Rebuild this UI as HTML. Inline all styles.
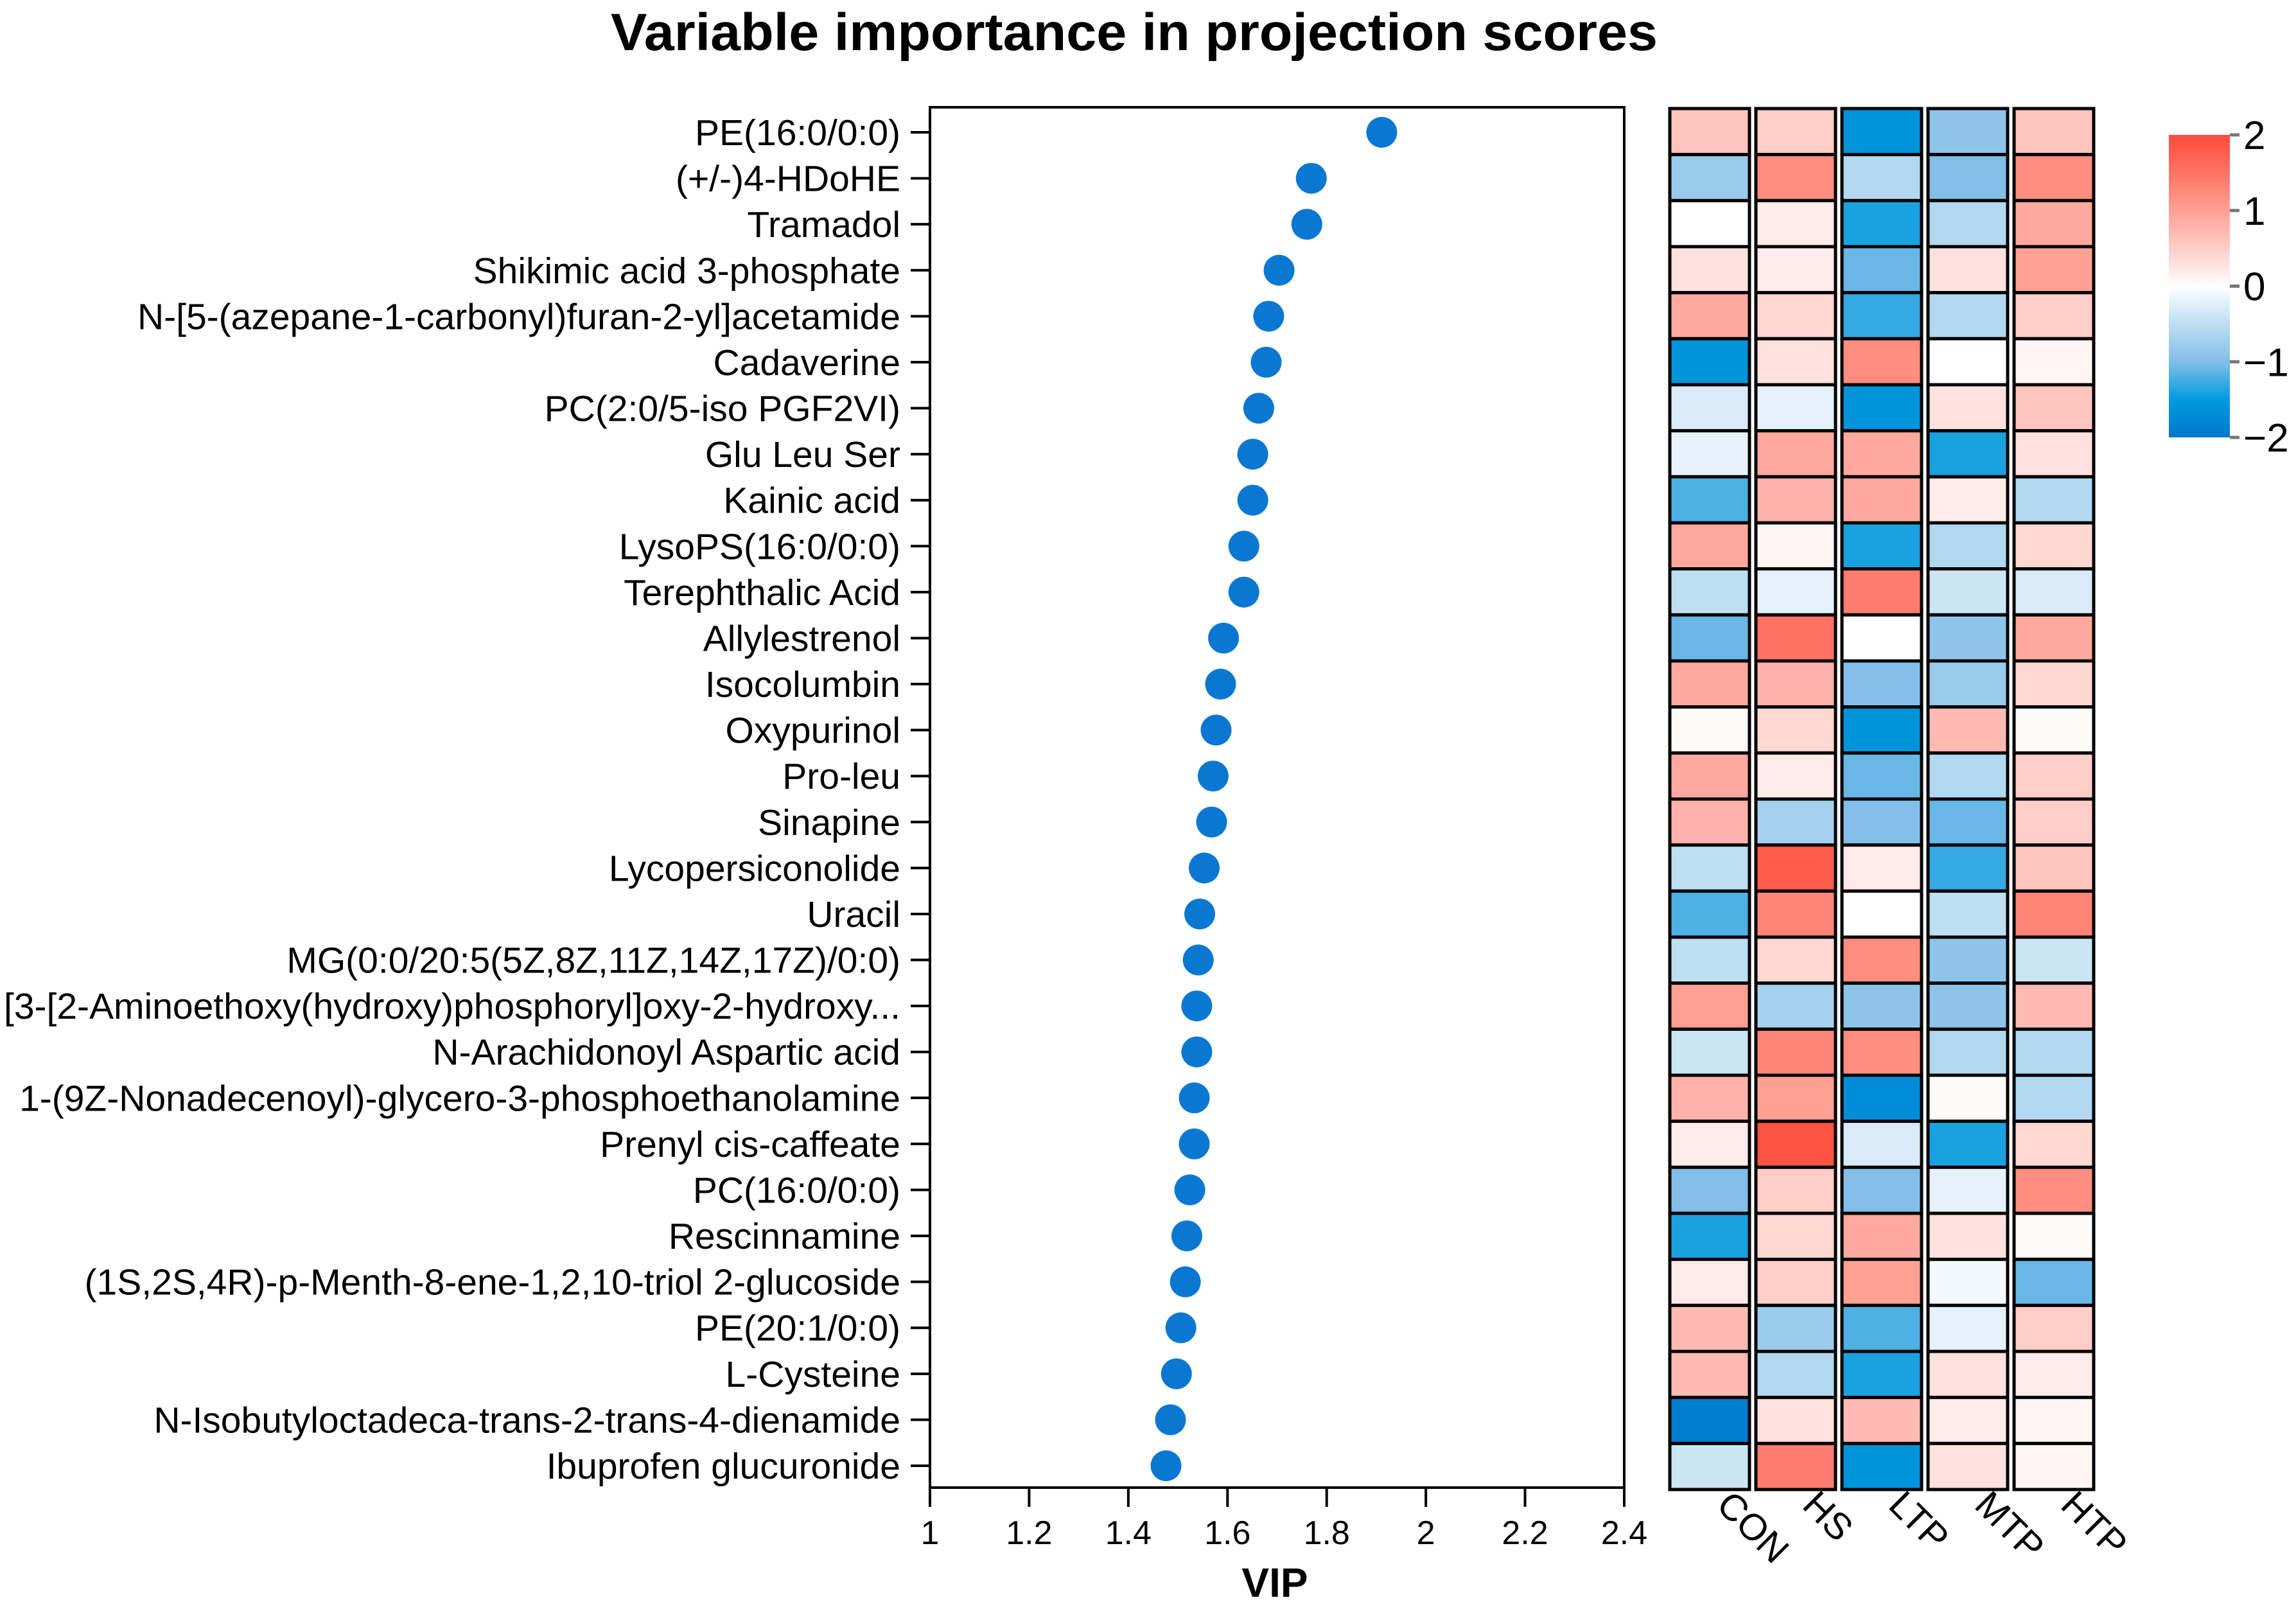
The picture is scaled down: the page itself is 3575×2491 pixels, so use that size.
<!DOCTYPE html>
<html><head><meta charset="utf-8"><style>
html,body{margin:0;padding:0;background:#fff}
svg{display:block;font-family:"Liberation Sans",Arial,sans-serif}
</style></head><body>
<svg id="chart" width="3575" height="2491" viewBox="0 0 3575 2491" xmlns="http://www.w3.org/2000/svg">
<defs>
<linearGradient id="cbar" x1="0" y1="1" x2="0" y2="0">
<stop offset="0" stop-color="#0077cc"/><stop offset="0.125" stop-color="#009bde"/><stop offset="0.25" stop-color="#82bee8"/><stop offset="0.375" stop-color="#bedef2"/><stop offset="0.5" stop-color="#ffffff"/><stop offset="0.625" stop-color="#ffcdc8"/><stop offset="0.75" stop-color="#ffa094"/><stop offset="0.875" stop-color="#ff7364"/><stop offset="1" stop-color="#ff4b3c"/>
</linearGradient>
</defs>
<text x="1766" y="78" font-size="82" font-weight="bold" text-anchor="middle" textLength="1630" lengthAdjust="spacingAndGlyphs">Variable importance in projection scores</text>
<g id="plot"></g>
<g id="heat"></g>
<g>
<rect x="3377" y="210" width="95" height="471" fill="url(#cbar)"/>
</g>
<g id="cbticks"></g>
</svg>
<script>
const names = ["PE(16:0/0:0)","(+/-)4-HDoHE","Tramadol","Shikimic acid 3-phosphate","N-[5-(azepane-1-carbonyl)furan-2-yl]acetamide","Cadaverine","PC(2:0/5-iso PGF2VI)","Glu Leu Ser","Kainic acid","LysoPS(16:0/0:0)","Terephthalic Acid","Allylestrenol","Isocolumbin","Oxypurinol","Pro-leu","Sinapine","Lycopersiconolide","Uracil","MG(0:0/20:5(5Z,8Z,11Z,14Z,17Z)/0:0)","[3-[2-Aminoethoxy(hydroxy)phosphoryl]oxy-2-hydroxy...","N-Arachidonoyl Aspartic acid","1-(9Z-Nonadecenoyl)-glycero-3-phosphoethanolamine","Prenyl cis-caffeate","PC(16:0/0:0)","Rescinnamine","(1S,2S,4R)-p-Menth-8-ene-1,2,10-triol 2-glucoside","PE(20:1/0:0)","L-Cysteine","N-Isobutyloctadeca-trans-2-trans-4-dienamide","Ibuprofen glucuronide"];
const vip = [1.911,1.769,1.760,1.704,1.683,1.678,1.663,1.651,1.651,1.633,1.633,1.592,1.586,1.577,1.571,1.568,1.553,1.544,1.541,1.538,1.538,1.533,1.533,1.524,1.518,1.515,1.506,1.497,1.485,1.476];
const groups = ["CON","HS","LTP","MTP","HTP"];
const xTicks = [1,1.2,1.4,1.6,1.8,2,2.2,2.4];
const cbTicks = [2,1,0,-1,-2];
const conV = [0.6,-0.8,0,0.3,0.9,-1.6,-0.3,-0.2,-1.2,0.9,-0.5,-1.1,0.9,0.05,0.9,0.8,-0.5,-1.2,-0.5,1.0,-0.4,0.8,0.2,-1.0,-1.4,0.2,0.7,0.7,-1.9,-0.4];
const hsV = [0.5,1.2,0.2,0.2,0.4,0.3,-0.2,0.9,0.8,0.1,-0.2,1.5,0.8,0.4,0.2,-0.7,1.8,1.3,0.4,-0.7,1.3,1.0,1.9,0.5,0.4,0.5,-0.8,-0.6,0.3,1.4];
const ltpV = [-1.6,-0.6,-1.4,-1.1,-1.3,1.2,-1.6,0.9,0.9,-1.4,1.4,0,-1.0,-1.6,-1.1,-1.0,0.2,0,1.2,-0.9,1.2,-1.7,-0.3,-1.0,0.9,1.0,-1.2,-1.4,0.7,-1.6];
const mtpV = [-0.9,-1.0,-0.6,0.3,-0.6,0,0.3,-1.4,0.2,-0.6,-0.4,-0.9,-0.8,0.7,-0.6,-1.1,-1.3,-0.5,-0.9,-0.9,-0.6,0.05,-1.4,-0.2,0.3,-0.1,-0.2,0.3,0.2,0.3];
const htpV = [0.6,1.2,0.9,1.0,0.5,0.1,0.6,0.3,-0.6,0.4,-0.3,0.9,0.4,0.05,0.5,0.5,0.6,1.3,-0.4,0.7,-0.6,-0.6,0.4,1.2,0.05,-1.1,0.5,0.2,0.1,0.1];
const heatVals = [conV,hsV,ltpV,mtpV,htpV];

const NS="http://www.w3.org/2000/svg";
function mk(tag,attrs,parent){const e=document.createElementNS(NS,tag);for(const k in attrs)e.setAttribute(k,attrs[k]);parent.appendChild(e);return e;}
const L=1448,R=2529,T=167,B=2316;
const y0=206,dy=(2282-206)/29;
const xs=v=>L+(v-1)/(2.4-1)*(R-L);
const ys=i=>y0+i*dy;
const plot=document.getElementById('plot');
const frame=mk('rect',{x:L,y:T,width:R-L,height:B-T,fill:'none',stroke:'#000','stroke-width':4},plot);


xTicks.forEach(t=>{
  const ln=mk('line',{x1:xs(t),x2:xs(t),y1:B,y2:B+30,stroke:'#000','stroke-width':4},plot);
  
  
  const tx=mk('text',{x:xs(t),y:2404,'font-size':52,'text-anchor':'middle'},plot);
  tx.textContent=String(t);
  
  
});
const xt=mk('text',{x:1985,y:2486,'font-size':64,'font-weight':'bold','text-anchor':'middle'},plot);
xt.textContent='VIP';


names.forEach((n,i)=>{
  const ln=mk('line',{x1:L-30,x2:L,y1:ys(i),y2:ys(i),stroke:'#000','stroke-width':4},plot);
  
  
  const tx=mk('text',{x:1402,y:ys(i)+20,'font-size':57,'text-anchor':'end'},plot);
  tx.textContent=n;
  
  
  const c=mk('circle',{cx:xs(vip[i]),cy:ys(i),r:24,fill:'#0a78d2'},plot);
  
  
});
const stops=[[-2,[0,119,204]],[-1.5,[0,155,222]],[-1,[130,190,232]],[-0.5,[190,222,242]],[0,[255,255,255]],[0.5,[255,205,200]],[1,[255,160,148]],[1.5,[255,115,100]],[2,[255,75,60]]];
function col(v){v=Math.max(-2,Math.min(2,v));for(let k=0;k<stops.length-1;k++){const[a,ca]=stops[k],[b,cb]=stops[k+1];if(v<=b){const f=(v-a)/(b-a);return 'rgb('+ca.map((c,j)=>Math.round(c+(cb[j]-c)*f)).join(',')+')';}}return 'rgb(255,75,60)';}
const heat=document.getElementById('heat');
const colX=[2600,2734,2868,3002,3136], colW=124;
const hT=169, hH=(2319-169)/30;
groups.forEach((g,j)=>{
  heatVals[j].forEach((v,i)=>{
    const r=mk('rect',{x:colX[j],y:hT+i*hH,width:colW,height:hH,fill:col(v),stroke:'#000','stroke-width':5},heat);
    
    
  });
  const cx=colX[j]+colW/2+8, cy=2346;
  const tx=mk('text',{x:cx,y:cy,'font-size':58,transform:'rotate(45 '+cx+' '+cy+')'},heat);
  tx.textContent=g;
  
  
});
const cbt=document.getElementById('cbticks');
cbTicks.forEach(t=>{
  const y=210+(2-t)/4*471;
  const ln=mk('line',{x1:3472,x2:3487,y1:y,y2:y,stroke:'#777','stroke-width':5},cbt);
  
  
  const tx=mk('text',{x:3493,y:y+22,'font-size':62},cbt);
  tx.textContent=t<0?'\u2212'+Math.abs(t):String(t);
  
  
});
</script>
</body></html>
